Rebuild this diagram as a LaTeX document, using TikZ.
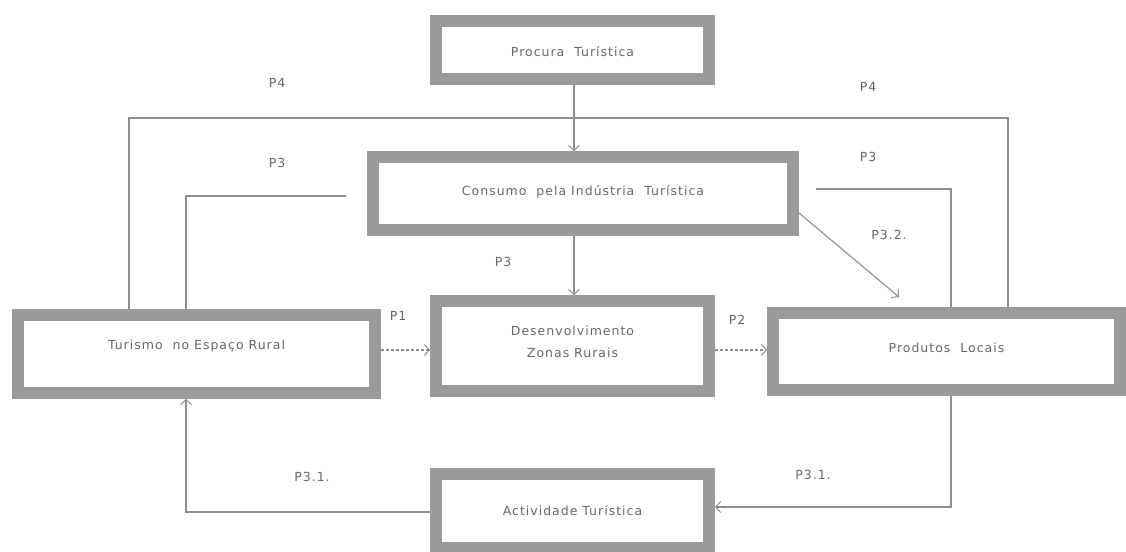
\documentclass[tikz,border=0pt]{standalone}
\usepackage{fontspec}
\setmainfont{DejaVu Sans}[LetterSpace=8]
\usetikzlibrary{arrows.meta}
\definecolor{boxgray}{HTML}{9B9B9B}
\definecolor{txtgray}{HTML}{686868}
\definecolor{lngray}{HTML}{8E8E8E}
\newcommand{\upby}[2]{\raisebox{#1}[\height][\depth]{#2}}
\tikzset{
  box/.style={draw=boxgray, line width=12pt, fill=white, outer sep=6pt, inner sep=0pt,
    align=center, text=txtgray, font=\fontsize{12.5}{22}\selectfont},
  conn/.style={draw=lngray, line width=1.1pt},
  arr/.style={conn, -{Straight Barb[length=5pt,width=11pt,line width=1pt]}},
  dashedline/.style={conn, dash pattern=on 3pt off 2pt},
  lbl/.style={text=txtgray, font=\fontsize{12.5}{14}\selectfont, inner sep=0pt}
}
\begin{document}
\begin{tikzpicture}[x=1pt,y=-1pt]
\useasboundingbox[fill=white] (0,0) rectangle (1126,551);
\node[box, minimum width=273pt, minimum height=58pt] (proc) at (572.5,50) {\upby{-1.5pt}{Procura\ \ Turística}};
\node[box, minimum width=420pt, minimum height=73pt] (cons) at (583,193.5) {\upby{2pt}{Consumo\ \ pela Indústria\ \ Turística}};
\node[box, minimum width=357pt, minimum height=78pt] (tur) at (196.5,354) {\upby{8pt}{Turismo\ \ no Espaço Rural}};
\node[box, minimum width=273pt, minimum height=90pt] (des) at (572.5,346) {\upby{4pt}{\begin{tabular}{@{}c@{}}Desenvolvimento\\Zonas Rurais\end{tabular}}};
\node[box, minimum width=347pt, minimum height=77pt] (prod) at (946.5,351.5) {\upby{4pt}{Produtos\ \ Locais}};
\node[box, minimum width=273pt, minimum height=74pt] (act) at (572.5,511) {Actividade\ Turística};

\coordinate (vx) at (574,0);
\coordinate (p4l) at (129,118);
\coordinate (p4r) at (1008,118);
\coordinate (p3ls) at (346,196);
\coordinate (p3lc) at (186,196);
\coordinate (p3rs) at (816,189);
\coordinate (p3rc) at (951,189);
\coordinate (p31r) at (951,507);

\draw[arr] (proc.south -| vx) -- (cons.north -| vx);
\draw[arr] (cons.south -| vx) -- (des.north -| vx);
\draw[conn] (tur.north -| p4l) -- (p4l) -- (p4r) -- (prod.north -| p4r);
\draw[conn] (p3ls) -- (p3lc) -- (tur.north -| p3lc);
\draw[conn] (p3rs) -- (p3rc) -- (prod.north -| p3rc);
\draw[arr] ([yshift=23pt]cons.south east) -- ([xshift=132pt,yshift=10pt]prod.north west);
\draw[arr, dashedline] ([yshift=4pt]tur.east) -- ([yshift=4pt]tur.east -| des.west);
\draw[arr, dashedline] ([yshift=-4pt]des.east) -- ([yshift=-4pt]des.east -| prod.west);
\draw[arr] ([yshift=-1pt]act.west) -- ([yshift=-1pt]act.west -| p3lc) -- (tur.south -| p3lc);
\draw[arr] (prod.south -| p31r) -- (p31r) -- (p31r -| act.east);

\node[lbl] (l4a) at (277,83) {P4};
\node[lbl] (l4b) at (868,87) {P4};
\node[lbl] (l3a) at (277,163) {P3};
\node[lbl] (l3b) at (868,157) {P3};
\node[lbl] (l3c) at (503,262) {P3};
\node[lbl] (l32) at (889,235) {P3.2.};
\node[lbl] (l1) at (398,316) {P1};
\node[lbl] (l2) at (737,320) {P2};
\node[lbl] (l31a) at (312,477) {P3.1.};
\node[lbl] (l31b) at (813,475) {P3.1.};
\end{tikzpicture}
\end{document}
